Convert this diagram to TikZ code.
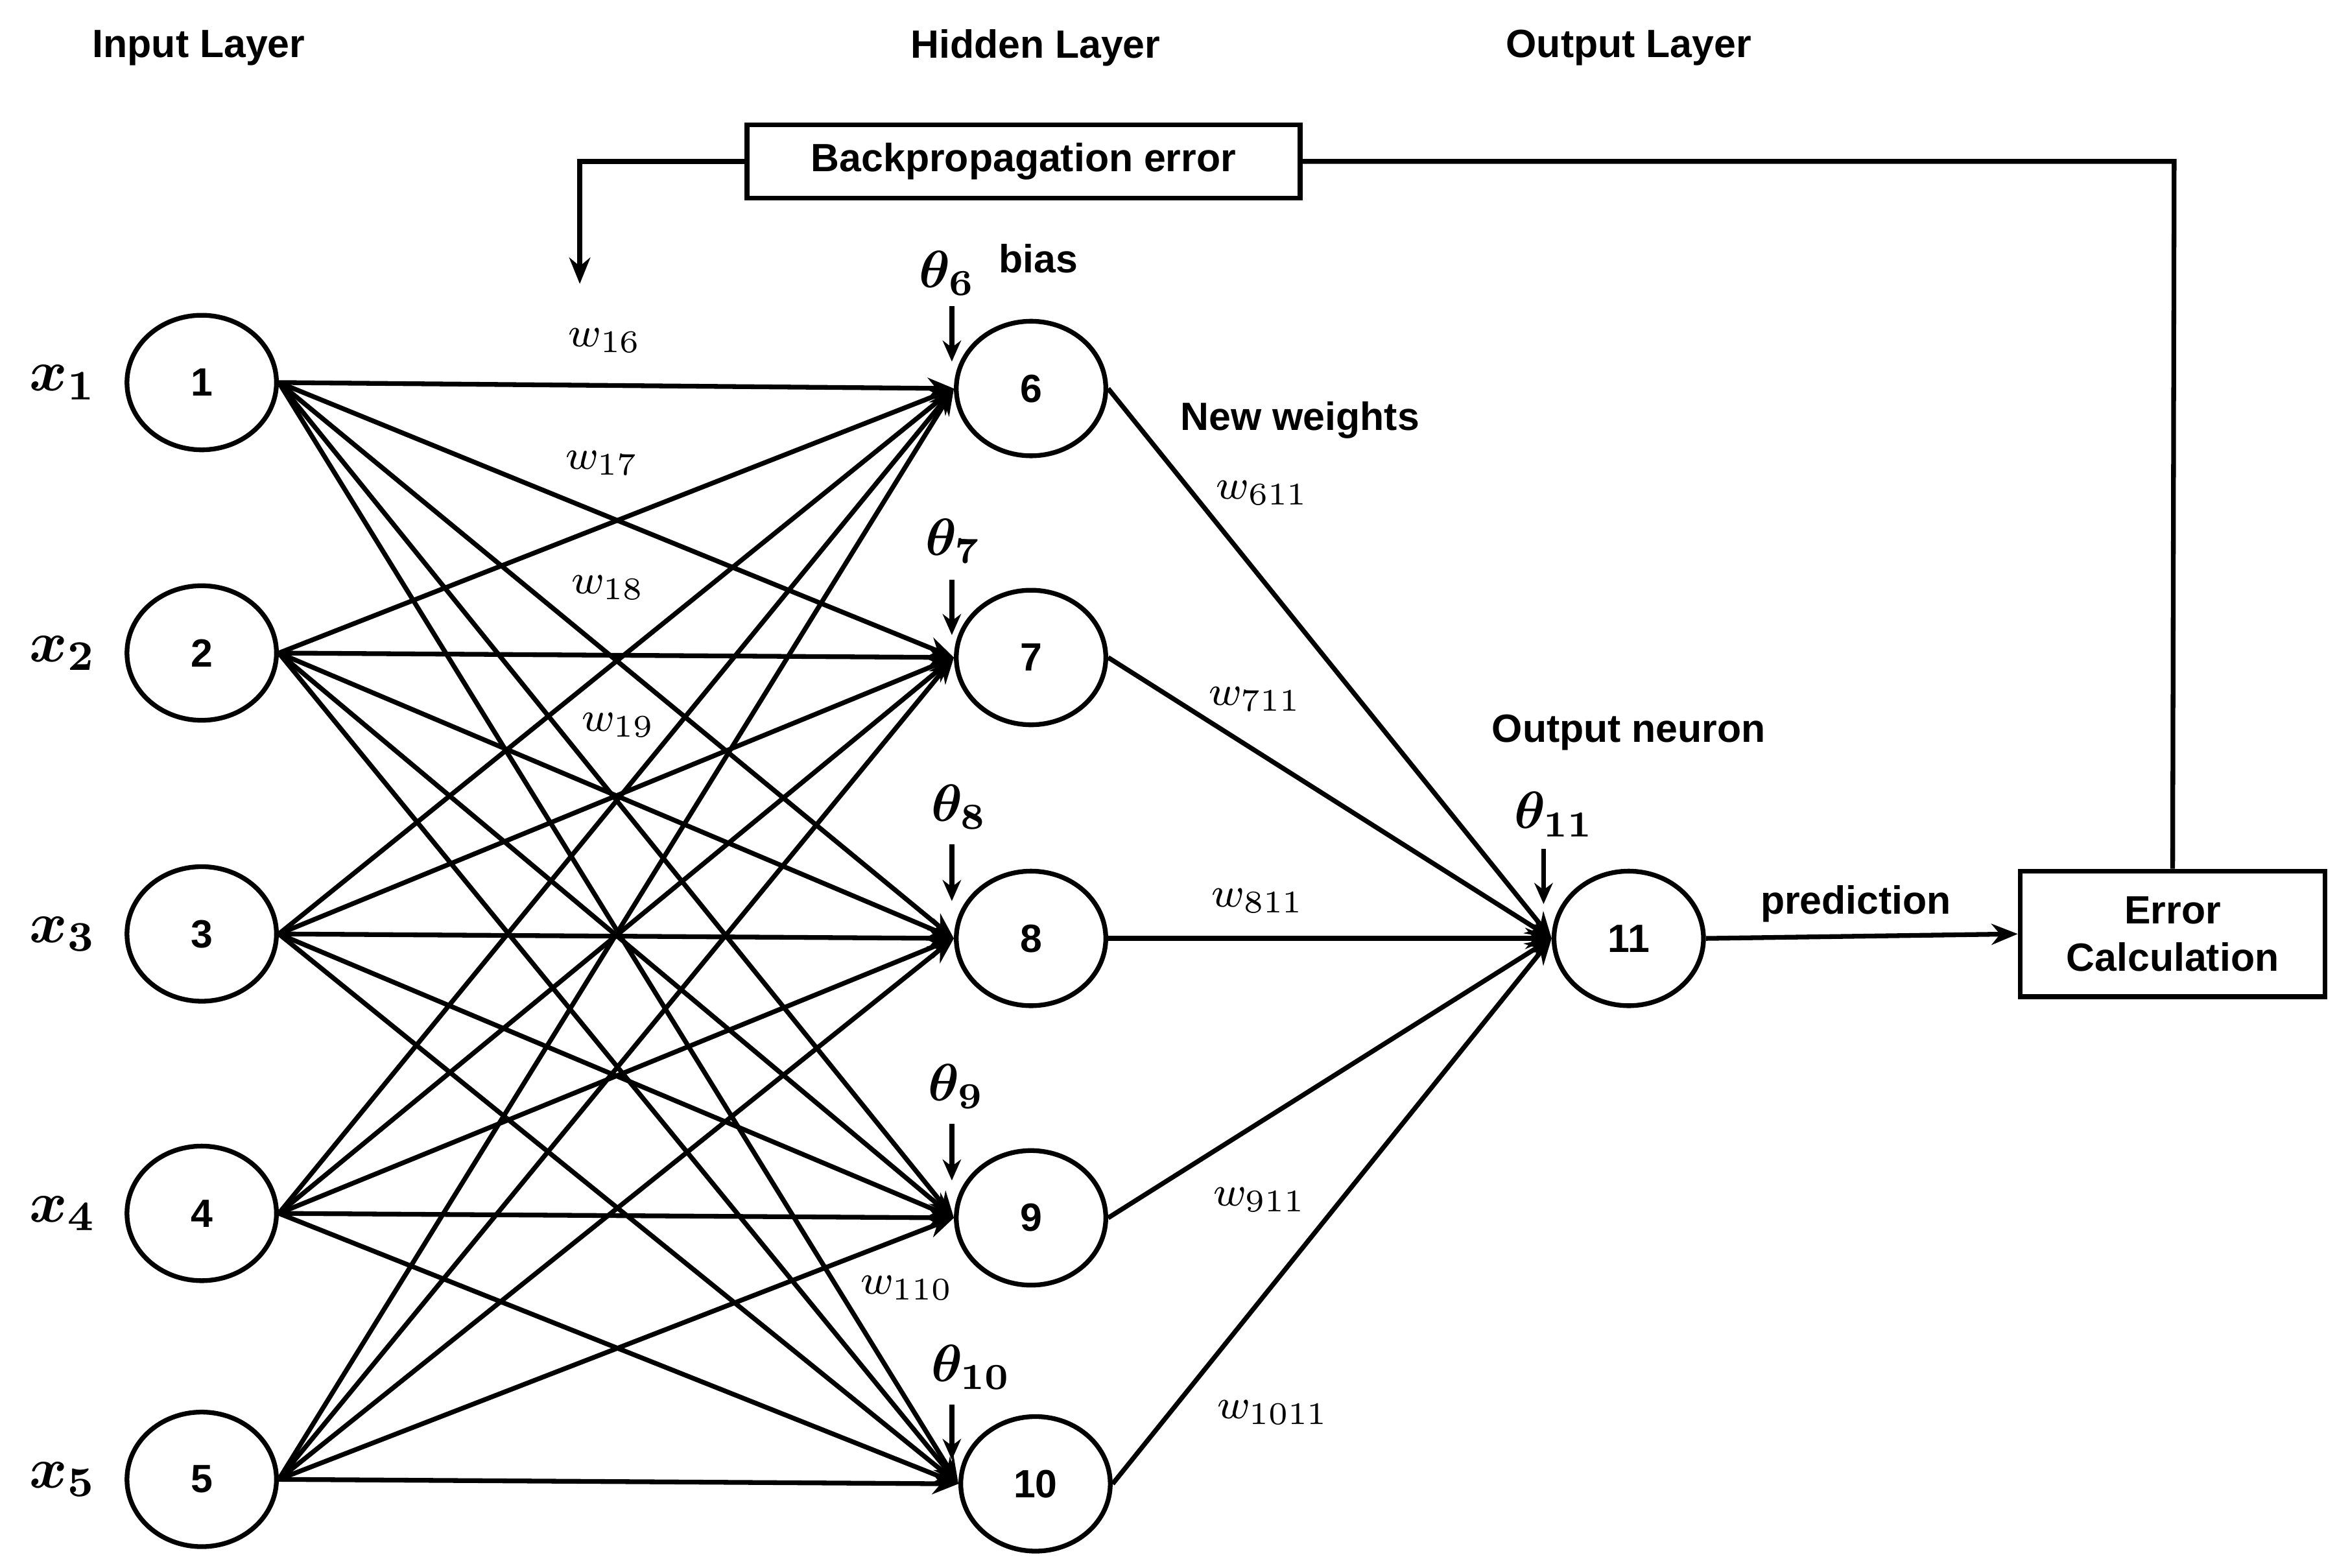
\documentclass[tikz,border=0pt]{standalone}
\usepackage{fontspec}
\setmainfont{Liberation Sans}
\usepackage{amsmath,bm}
\usetikzlibrary{arrows.meta,shapes.geometric}
\begin{document}
\begin{tikzpicture}[x=0.01cm,y=-0.01cm,
  neuron/.style={draw,line width=0.9pt,ellipse,minimum width=1cm,minimum height=0.9cm,inner sep=0pt,font=\fontsize{7.5}{9}\selectfont\bfseries},
  box/.style={draw,line width=0.9pt,font=\fontsize{7.5}{9}\selectfont\bfseries,align=center},
  lbl/.style={font=\fontsize{7.5}{9}\selectfont\bfseries},
  wl/.style={font=\fontsize{8}{9}\selectfont},
  edge/.style={line width=0.9pt},
  arr/.style={line width=0.9pt,-{Stealth[length=5pt,width=4pt]}},
  small/.style={line width=0.9pt,-{Stealth[length=4pt,width=3.5pt]}}]
\useasboundingbox (0,0) rectangle (1564,1049);
\node[neuron] (n1) at (135,256) {1};
\node[neuron] (n2) at (135,437) {2};
\node[neuron] (n3) at (135,625) {3};
\node[neuron] (n4) at (135,812) {4};
\node[neuron] (n5) at (135,990) {5};
\node[neuron] (n6) at (690,260) {6};
\node[neuron] (n7) at (690,440) {7};
\node[neuron] (n8) at (690,628) {8};
\node[neuron] (n9) at (690,815) {9};
\node[neuron] (n10) at (693,993) {10};
\node[neuron] (n11) at (1090,628) {11};
\node[box,minimum width=2.04cm,minimum height=0.84cm] (err) at (1454,625) {Error\\Calculation};
\node[box,minimum width=3.7cm,minimum height=0.49cm] (bp) at (685,108) {Backpropagation error};
\foreach \i in {1,...,5}{\foreach \h in {6,...,10}{\draw[arr] (n\i.east) -- (n\h.west);}}
\foreach \h in {6,...,10}{\draw[arr] (n\h.east) -- (n11.west);}
\draw[arr] (n11.east) -- (err.west);
\coordinate (c1) at (1455,108);
\coordinate (c2) at (388,108);
\coordinate (c3) at (388,190);
\draw[edge] (err.north) -- (c1) -- (bp.east);
\draw[arr] (bp.west) -- (c2) -- (c3);
\node[lbl] (t1) at (133,32) {Input Layer};
\node[lbl] (t2) at (693,32) {Hidden Layer};
\node[lbl] (t3) at (1090,32) {Output Layer};
\foreach \i/\y in {1/256,2/437,3/625,4/812,5/990}{\node[font=\fontsize{11}{12}\selectfont] (x\i) at (42,\y) {$\bm{x_{\i}}$};}
\foreach \k/\x/\y in {6/634/183,7/638/362,8/642/540,9/640/727,10/650/915,11/1040/545}{
  \node[font=\fontsize{10}{12}\selectfont] (th\k) at (\x,\y) {$\bm{\theta_{\k}}$};}
\foreach \k/\x/\a/\b in {6/637/205/242,7/637/388/425,8/637/565/603,9/637/752/790,10/637/940/977,11/1033/568/605}{
  \coordinate (ua\k) at (\x,\a); \coordinate (ub\k) at (\x,\b);
  \draw[small] (ua\k) -- (ub\k);}
\node[lbl] (bias) at (695,173) {bias};
\node[lbl] (nw) at (870,281) {New weights};
\node[lbl] (on) at (1090,490) {Output neuron};
\node[lbl] (pr) at (1242,605) {prediction};
\foreach \t/\x/\y in {16/405/228,17/403/310,18/407/393,19/414/485,110/607/862,611/845/330,711/840/468,811/842/603,911/843/803,1011/852/945}{
  \node[wl] (w\t) at (\x,\y) {$w_{\t}$};}
\end{tikzpicture}
\end{document}
